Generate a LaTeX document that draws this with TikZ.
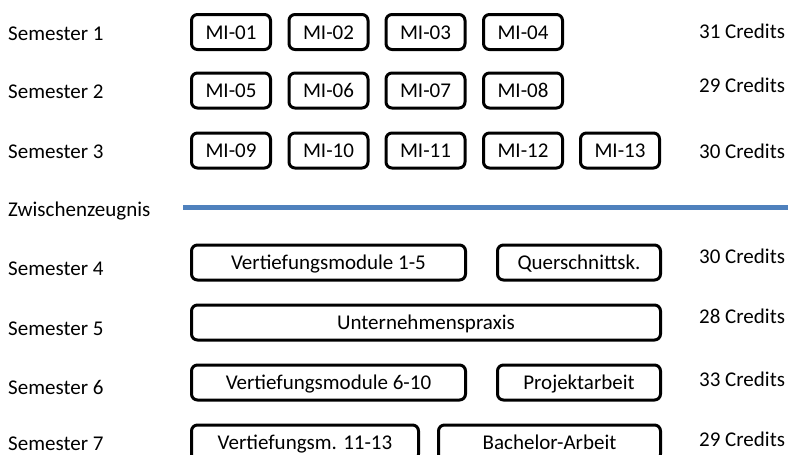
\documentclass[tikz,border=0pt]{standalone}
\usepackage{fontspec}
\setmainfont{Carlito}
\definecolor{lineblue}{RGB}{79,129,189}
\begin{document}
\begin{tikzpicture}[x=1pt,y=-1pt,
  txt/.style={font=\fontsize{21}{25}\selectfont, inner sep=0pt},
  lbl/.style={txt, anchor=base west},
  mod/.style={txt, draw=black, line width=3pt, rounded corners=6pt,
    minimum height=35pt, text height=14.5pt, text depth=0pt},
  mi/.style={mod, minimum width=79pt}]
\clip (0,0) rectangle (788,455);
\useasboundingbox (0,0) rectangle (788,455);
% semester labels
\node[lbl] (s1) at (8,40) {Semester 1};
\node[lbl] (s2) at (8,98) {Semester 2};
\node[lbl] (s3) at (8,158) {Semester 3};
\node[lbl] (zz) at (8,216) {Zwischenzeugnis};
\node[lbl] (s4) at (8,275) {Semester 4};
\node[lbl] (s5) at (8,335) {Semester 5};
\node[lbl] (s6) at (8,394) {Semester 6};
\node[lbl] (s7) at (8,450) {Semester 7};
% credits
\node[lbl] (c1) at (699,38) {31 Credits};
\node[lbl] (c2) at (699,92) {29 Credits};
\node[lbl] (c3) at (699,158) {30 Credits};
\node[lbl] (c4) at (699,263) {30 Credits};
\node[lbl] (c5) at (699,323) {28 Credits};
\node[lbl] (c6) at (699,386) {33 Credits};
\node[lbl] (c7) at (699,446) {29 Credits};
% modules rows 1-3
\node[mi] (m01) at (231,32) {MI-01};
\node[mi] (m02) at (328.5,32) {MI-02};
\node[mi] (m03) at (425.5,32) {MI-03};
\node[mi] (m04) at (523,32) {MI-04};
\node[mi] (m05) at (231,90.5) {MI-05};
\node[mi] (m06) at (328.5,90.5) {MI-06};
\node[mi] (m07) at (425.5,90.5) {MI-07};
\node[mi] (m08) at (523,90.5) {MI-08};
\node[mi] (m09) at (231,150.5) {MI-09};
\node[mi] (m10) at (328.5,150.5) {MI-10};
\node[mi] (m11) at (425.5,150.5) {MI-11};
\node[mi] (m12) at (523,150.5) {MI-12};
\node[mi] (m13) at (620,150.5) {MI-13};
% Zwischenzeugnis line
\coordinate (la) at (183,207.5);
\coordinate (lb) at (790,207.5);
\draw[lineblue, line width=4.5pt] (la) -- (lb);
% rows 4-7
\node[mod, minimum width=274pt] (v15) at (328.5,262.5) {Vertiefungsmodule 1-5};
\node[mod, minimum width=163pt] (qs) at (579,262.5) {Querschnittsk.};
\node[mod, minimum width=469pt] (up) at (426,322.5) {Unternehmenspraxis};
\node[mod, minimum width=274pt] (v610) at (328.5,382.5) {Vertiefungsmodule 6-10};
\node[mod, minimum width=163pt] (pa) at (579,382.5) {Projektarbeit};
\node[mod, minimum width=227pt] (v1113) at (305,442.5) {Vertiefungsm. 11-13};
\node[mod, minimum width=222pt] (ba) at (549.5,442.5) {Bachelor-Arbeit};
\end{tikzpicture}
\end{document}
